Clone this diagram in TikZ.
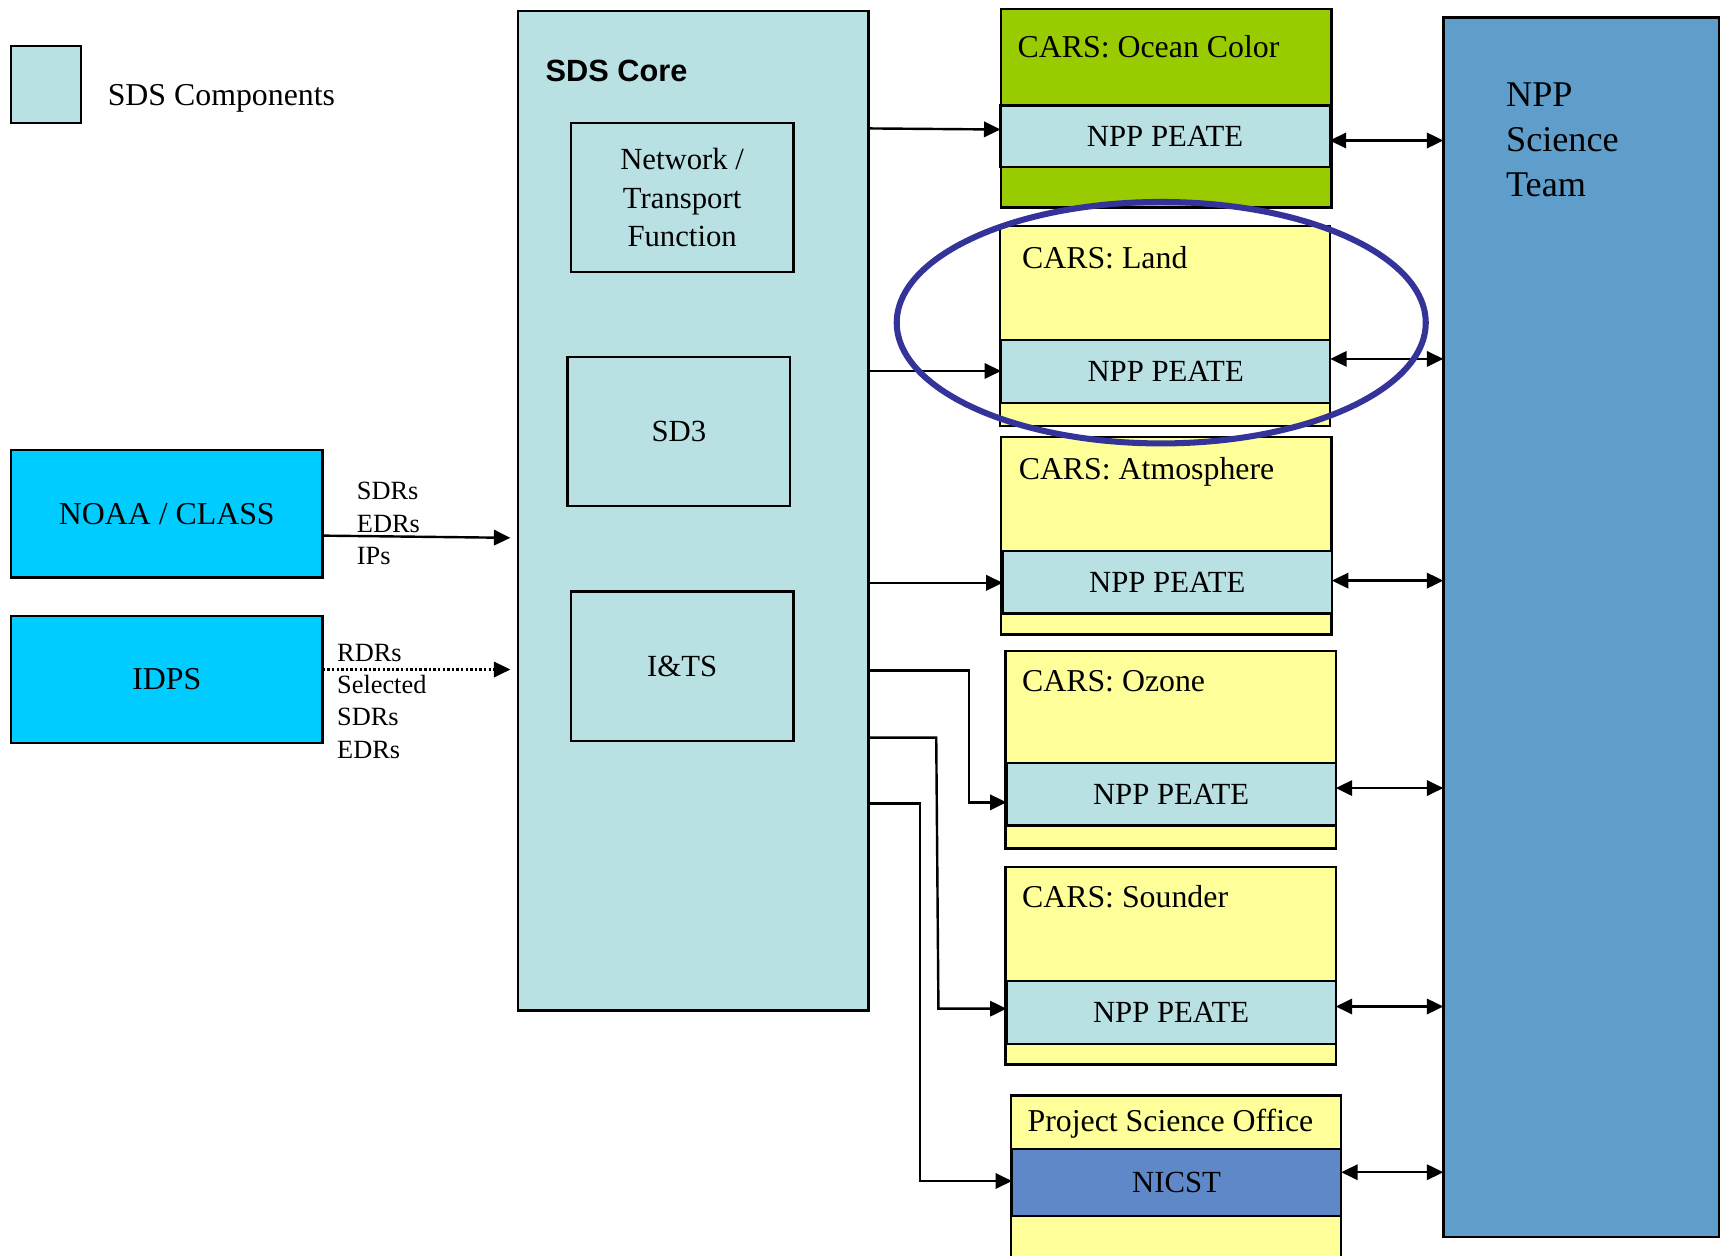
\documentclass[tikz,border=0pt]{standalone}
\usepackage{fontspec}
\setmainfont{Liberation Serif}
\newfontfamily\corefont{Liberation Sans}
\usetikzlibrary{arrows.meta}

\definecolor{sdsblue}{HTML}{B9E0E3}
\definecolor{classcyan}{HTML}{00CCFF}
\definecolor{oceangreen}{HTML}{99CC00}
\definecolor{carsyellow}{HTML}{FFFF99}
\definecolor{nicstblue}{HTML}{5F88C9}
\definecolor{teamblue}{HTML}{5F9ECB}
\definecolor{ringblue}{HTML}{333399}

\begin{document}
\begin{tikzpicture}[x=1pt,y=-1pt,
  every node/.style={font=\fontsize{28}{35}\selectfont},
  box/.style={draw=black, line width=2.2pt, inner sep=0pt, outer sep=0pt},
  comp/.style={box, fill=sdsblue},
  ext/.style={box, fill=classcyan, font=\fontsize{29}{35}\selectfont},
  cars/.style={box, fill=carsyellow, minimum width=301pt},
  peate/.style={comp, minimum width=300pt, minimum height=57pt},
  title/.style={anchor=base west, inner sep=0pt, font=\fontsize{29}{35}\selectfont},
  flow/.style={anchor=base west, inner sep=0pt, font=\fontsize{24}{29}\selectfont},
  >={Triangle[length=15pt,width=14pt]},
  arr/.style={line width=2.2pt, ->},
  darr/.style={line width=2.2pt, <->},
]
\useasboundingbox (0,0) rectangle (1568,1144);

% legend
\node[comp, minimum width=64pt, minimum height=70pt] (legend) at (42,77) {};
\node[title] (legendtxt) at (98,96.5) {SDS Components};

% SDS core and its components
\node[comp, line width=2.6pt, minimum width=319pt, minimum height=911pt] (core) at (631.5,465.5) {};
\node[title, font=\corefont\bfseries\fontsize{28}{34}\selectfont] (coretxt) at (497,74) {SDS Core};
\node[comp, minimum width=203pt, minimum height=136pt, align=center] (ntf) at (621.5,180)
  {Network /\\Transport\\Function};
\node[comp, minimum width=203pt, minimum height=136pt] (sd3) at (618.5,393) {SD3};
\node[comp, minimum width=203pt, minimum height=136pt] (its) at (621.5,607) {I\&TS};

% external sources
\node[ext, minimum width=284pt, minimum height=116pt] (noaa) at (152,468) {NOAA / CLASS};
\node[ext, minimum width=284pt, minimum height=116pt] (idps) at (152,619) {IDPS};
\node[flow] (l1) at (325,455) {SDRs};
\node[flow] (l2) at (325,485) {EDRs};
\node[flow] (l3) at (325,514) {IPs};
\node[flow] (m1) at (307,603) {RDRs};
\node[flow] (m2) at (307,632) {Selected};
\node[flow] (m3) at (307,661) {SDRs};
\node[flow] (m4) at (307,691) {EDRs};
\coordinate (noaaIn) at (465,490);
\coordinate (idpsIn) at (465,610);
\draw[arr] (noaa.east |- 0,488) -- (noaaIn);
\draw[arr, dotted] (idps.east |- 0,610) -- (idpsIn);

% CARS sites
\node[box, fill=oceangreen, minimum width=301pt, minimum height=181pt] (ocean) at (1062.5,98.5) {};
\node[cars, minimum height=182pt] (land) at (1061.5,297) {};
\node[cars, minimum height=180pt] (atmos) at (1062.5,488) {};
\node[cars, minimum height=180pt] (ozone) at (1066.5,683) {};
\node[cars, minimum height=180pt] (sounder) at (1066.5,880) {};
\node[cars, minimum height=160pt] (pso) at (1071.5,1078) {};

\node[title] (t1) at (927,52) {CARS: Ocean Color};
\node[title] (t2) at (931,245) {CARS: Land};
\node[title] (t3) at (928,437) {CARS: Atmosphere};
\node[title] (t4) at (931,630) {CARS: Ozone};
\node[title] (t5) at (931,827) {CARS: Sounder};
\node[title] (t6) at (936,1031) {Project Science Office};

\node[peate, minimum height=56pt] (p1) at (1061.5,124) {NPP PEATE};
\node[peate] (p2) at (1062,338.5) {NPP PEATE};
\node[peate] (p3) at (1063.5,530.5) {NPP PEATE};
\node[peate] (p4) at (1067,723.5) {NPP PEATE};
\node[peate] (p5) at (1067,922.5) {NPP PEATE};
\node[box, fill=nicstblue, minimum width=300pt, minimum height=61pt] (nicst) at (1072,1077.5) {NICST};

% science team
\node[box, fill=teamblue, minimum width=251pt, minimum height=1111pt] (team) at (1440.5,571.5) {};
\node[title, font=\fontsize{33}{41}\selectfont] (s1) at (1372,97) {NPP};
\node[title, font=\fontsize{33}{41}\selectfont] (s2) at (1372,138) {Science};
\node[title, font=\fontsize{33}{41}\selectfont] (s3) at (1372,179) {Team};

% distribution from the core
\draw[arr] (core.east |- 0,117) -- (p1.west |- 0,118);
\draw[arr] (core.east |- 0,338) -- (p2.west |- 0,338);
\draw[arr] (core.east |- 0,531) -- (p3.west |- 0,531);
\draw[arr] (core.east |- 0,611) -- (883,611) -- (883,731) -- (p4.west |- 0,731);
\draw[arr] (core.east |- 0,672) -- (853,672) -- (855,919) -- (p5.west |- 0,919);
\draw[arr] (core.east |- 0,732) -- (838,732) -- (838,1076) -- (nicst.west |- 0,1076);

% exchanges with the science team
\draw[darr] (p1.east |- 0,128) -- (team.west |- 0,128);
\draw[darr] (p2.east |- 0,327) -- (team.west |- 0,327);
\draw[darr] (p3.east |- 0,529) -- (team.west |- 0,529);
\draw[darr] (p4.east |- 0,718) -- (team.west |- 0,718);
\draw[darr] (p5.east |- 0,917) -- (team.west |- 0,917);
\draw[darr] (nicst.east |- 0,1068) -- (team.west |- 0,1068);

% highlight ring around the land site
\draw[ringblue, line width=5.5pt] (1058,294) ellipse [x radius=241pt, y radius=110pt];
\end{tikzpicture}
\end{document}
